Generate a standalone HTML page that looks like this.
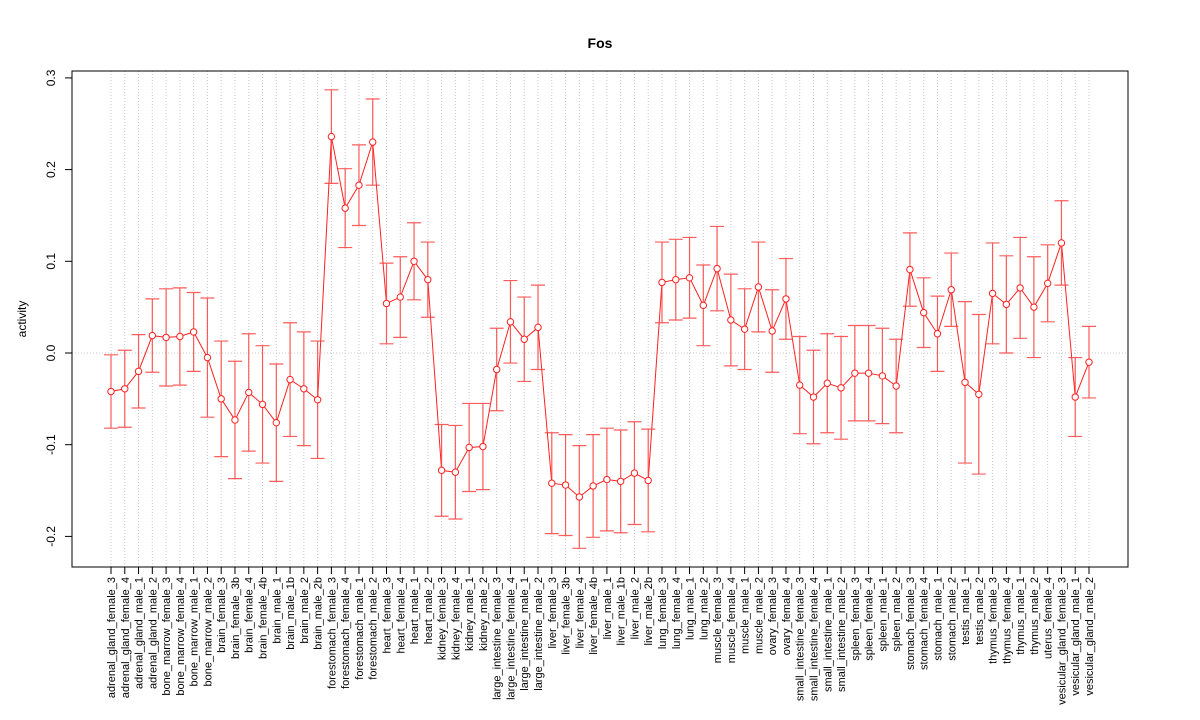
<!DOCTYPE html>
<html><head><meta charset="utf-8"><style>body{margin:0;background:#fff}svg{display:block;font-family:"Liberation Sans",sans-serif}</style></head>
<body>
<svg id="chart" width="1200" height="720" xmlns="http://www.w3.org/2000/svg">
<rect width="1200" height="720" fill="#fff"/>
<text x="600" y="48" text-anchor="middle" font-size="14" font-weight="bold">Fos</text>
<text transform="translate(26,319) rotate(-90)" text-anchor="middle" font-size="12">activity</text>
<g id="grid"></g><g id="axes"></g><g id="marks"></g>
<rect x="72" y="71" width="1056" height="496" fill="none" stroke="#000" stroke-width="1"/>
</svg>
<script>
const categories = ["adrenal_gland_female_3","adrenal_gland_female_4","adrenal_gland_male_1","adrenal_gland_male_2","bone_marrow_female_3","bone_marrow_female_4","bone_marrow_male_1","bone_marrow_male_2","brain_female_3","brain_female_3b","brain_female_4","brain_female_4b","brain_male_1","brain_male_1b","brain_male_2","brain_male_2b","forestomach_female_3","forestomach_female_4","forestomach_male_1","forestomach_male_2","heart_female_3","heart_female_4","heart_male_1","heart_male_2","kidney_female_3","kidney_female_4","kidney_male_1","kidney_male_2","large_intestine_female_3","large_intestine_female_4","large_intestine_male_1","large_intestine_male_2","liver_female_3","liver_female_3b","liver_female_4","liver_female_4b","liver_male_1","liver_male_1b","liver_male_2","liver_male_2b","lung_female_3","lung_female_4","lung_male_1","lung_male_2","muscle_female_3","muscle_female_4","muscle_male_1","muscle_male_2","ovary_female_3","ovary_female_4","small_intestine_female_3","small_intestine_female_4","small_intestine_male_1","small_intestine_male_2","spleen_female_3","spleen_female_4","spleen_male_1","spleen_male_2","stomach_female_3","stomach_female_4","stomach_male_1","stomach_male_2","testis_male_1","testis_male_2","thymus_female_3","thymus_female_4","thymus_male_1","thymus_male_2","uterus_female_4","vesicular_gland_female_3","vesicular_gland_male_1","vesicular_gland_male_2"];
const activity = [-0.042,-0.039,-0.020,0.019,0.017,0.018,0.023,-0.005,-0.050,-0.073,-0.043,-0.056,-0.076,-0.029,-0.039,-0.051,0.236,0.158,0.183,0.230,0.054,0.061,0.100,0.080,-0.128,-0.130,-0.103,-0.102,-0.018,0.034,0.015,0.028,-0.142,-0.144,-0.157,-0.145,-0.138,-0.140,-0.131,-0.139,0.077,0.080,0.082,0.052,0.092,0.036,0.026,0.072,0.024,0.059,-0.035,-0.048,-0.033,-0.038,-0.022,-0.022,-0.025,-0.036,0.091,0.044,0.021,0.069,-0.032,-0.045,0.065,0.053,0.071,0.050,0.076,0.120,-0.048,-0.010];
const errHalf = [0.040,0.042,0.040,0.040,0.053,0.053,0.043,0.065,0.063,0.064,0.064,0.064,0.064,0.062,0.062,0.064,0.051,0.043,0.044,0.047,0.044,0.044,0.042,0.041,0.050,0.051,0.048,0.047,0.045,0.045,0.046,0.046,0.055,0.055,0.056,0.056,0.056,0.056,0.056,0.056,0.044,0.044,0.044,0.044,0.046,0.050,0.044,0.049,0.045,0.044,0.053,0.051,0.054,0.056,0.052,0.052,0.052,0.051,0.040,0.038,0.041,0.040,0.088,0.087,0.055,0.053,0.055,0.055,0.042,0.046,0.043,0.039];
const yTicks = [-0.2,-0.1,0.0,0.1,0.2,0.3];
const yTickLabels = ["-0.2","-0.1","0.0","0.1","0.2","0.3"];

const NS="http://www.w3.org/2000/svg";
const X0=111, X1=1089, Y0v=0, Ypx0=353, pxPer=917;
function xs(i){return X0+i*(X1-X0)/(categories.length-1);}
function ys(v){return Ypx0-(v-Y0v)*pxPer;}
function mk(tag,attrs,parent){const e=document.createElementNS(NS,tag);for(const k in attrs)e.setAttribute(k,attrs[k]);parent.appendChild(e);return e;}
const grid=document.getElementById('grid'),axes=document.getElementById('axes'),marks=document.getElementById('marks');

categories.forEach((c,i)=>{
  const x=xs(i);
  const g=mk('line',{x1:x,x2:x,y1:71,y2:567,stroke:'#c8c8c8','stroke-dasharray':'1,2'},grid);
  
  
  const t=mk('line',{x1:x,x2:x,y1:567,y2:574,stroke:'#000'},axes);
  
  
  const l=mk('text',{transform:`translate(${x+4},577) rotate(-90)`,'text-anchor':'end','font-size':'11'},axes);
  l.textContent=c;
  
  
});
const z=mk('line',{x1:72,x2:1128,y1:ys(0),y2:ys(0),stroke:'#c8c8c8','stroke-dasharray':'1,2'},grid);


mk('line',{x1:72,x2:72,y1:ys(0.3),y2:ys(-0.2),stroke:'#000'},axes);
yTicks.forEach((v,i)=>{
  const y=ys(v);
  const t=mk('line',{x1:65,x2:72,y1:y,y2:y,stroke:'#000'},axes);
  
  
  const l=mk('text',{transform:`translate(55,${y}) rotate(-90)`,'text-anchor':'middle','font-size':'12'},axes);
  l.textContent=yTickLabels[i];
  
  
});
let d='';
activity.forEach((v,i)=>{d+=(i?'L':'M')+xs(i)+','+ys(v);});
const line=mk('path',{d:d,fill:'none',stroke:'#ff2020','stroke-width':1},marks);


activity.forEach((v,i)=>{
  const x=xs(i),e=errHalf[i];
  const top=ys(v+e),bot=ys(v-e);
  const eb=mk('path',{d:`M${x},${top}L${x},${bot}M${x-7},${top}L${x+7},${top}M${x-7},${bot}L${x+7},${bot}`,stroke:'#ff4040','stroke-width':1.2,fill:'none','stroke-opacity':0.85},marks);
  
  
  const p=mk('circle',{cx:x,cy:ys(v),r:3.2,fill:'#fff',stroke:'#ff2020','stroke-width':1},marks);
  
  
});
</script>
</body></html>
